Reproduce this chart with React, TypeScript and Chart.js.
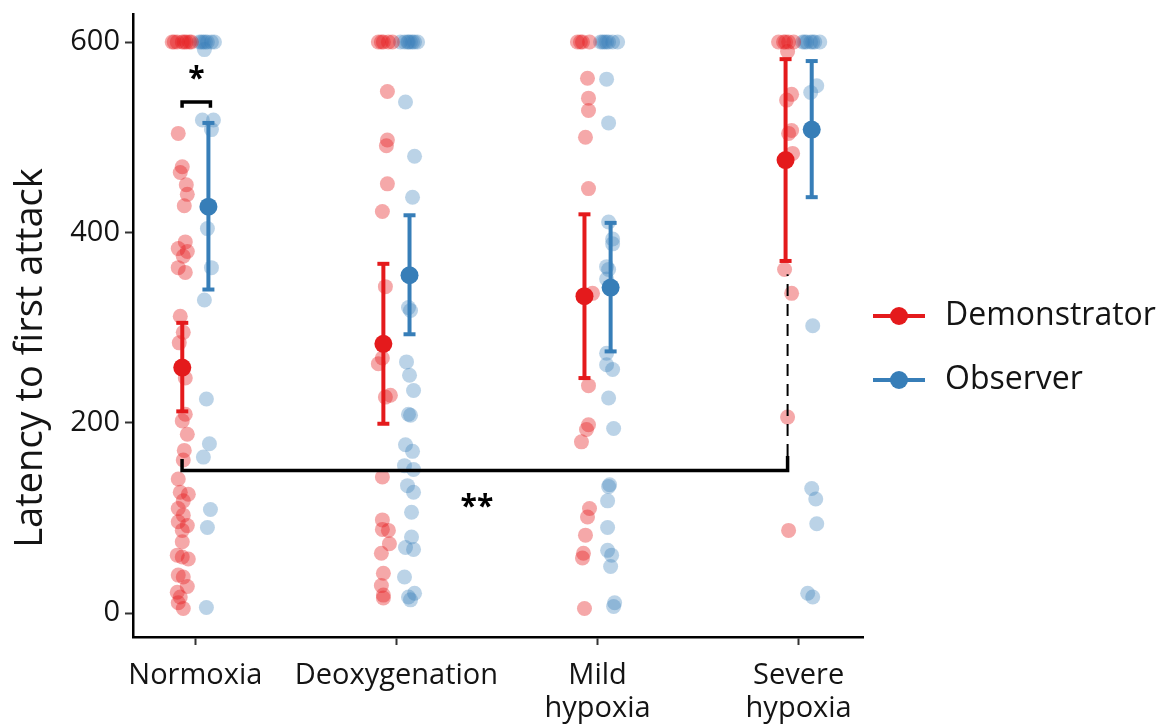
import { useEffect, useRef } from 'react';
import { Chart, registerables } from 'chart.js';

Chart.register(...registerables);

// ---------- data ----------
const categories: string[][] = [['Normoxia'], ['Deoxygenation'], ['Mild', 'hypoxia'], ['Severe', 'hypoxia']];
const seriesNames = ['Demonstrator', 'Observer'];
const yTicks = [0, 200, 400, 600];
const yTitle = 'Latency to first attack';

// jitter: horizontal offset from the category centre (category units)
const normoxiaDemVals = [600, 600, 600, 600, 600, 600, 600, 600, 504, 469, 463, 450, 440, 428, 390, 383, 380, 375, 363, 358, 312, 295, 284, 247, 209, 202, 188, 171, 161, 141, 127, 125, 118, 110, 103, 96, 92, 87, 75, 61, 59, 57, 40, 38, 28, 22, 17, 11, 5];
const normoxiaDemJit = [-0.115, -0.09, -0.065, -0.045, -0.02, -0.105, -0.055, -0.03, -0.085, -0.065, -0.075, -0.045, -0.04, -0.055, -0.05, -0.085, -0.04, -0.06, -0.085, -0.05, -0.075, -0.06, -0.08, -0.05, -0.05, -0.065, -0.04, -0.055, -0.06, -0.085, -0.075, -0.035, -0.06, -0.085, -0.06, -0.085, -0.04, -0.065, -0.065, -0.09, -0.065, -0.035, -0.085, -0.06, -0.04, -0.09, -0.075, -0.085, -0.06];
const normoxiaObsVals = [600, 600, 600, 600, 600, 600, 600, 592, 518, 518, 508, 404, 363, 329, 225, 178, 164, 109, 90, 6];
const normoxiaObsJit = [0.02, 0.04, 0.06, 0.08, 0.095, 0.03, 0.05, 0.045, 0.035, 0.09, 0.08, 0.06, 0.08, 0.045, 0.055, 0.07, 0.04, 0.075, 0.06, 0.055];

const deoxDemVals = [600, 600, 600, 600, 600, 548, 497, 491, 451, 422, 343, 268, 262, 227, 229, 143, 98, 88, 87, 73, 63, 42, 29, 19, 16];
const deoxDemJit = [-0.09, -0.065, -0.04, -0.02, -0.075, -0.045, -0.045, -0.05, -0.045, -0.07, -0.055, -0.07, -0.09, -0.055, -0.03, -0.07, -0.07, -0.07, -0.04, -0.035, -0.075, -0.065, -0.075, -0.065, -0.065];
const deoxObsVals = [600, 600, 600, 600, 600, 600, 600, 600, 537, 480, 437, 321, 318, 264, 250, 234, 209, 208, 177, 170, 155, 151, 134, 127, 106, 80, 69, 67, 38, 21, 17, 14];
const deoxObsJit = [0.02, 0.04, 0.055, 0.07, 0.09, 0.105, 0.06, 0.08, 0.045, 0.09, 0.08, 0.06, 0.07, 0.05, 0.065, 0.085, 0.06, 0.07, 0.045, 0.08, 0.04, 0.085, 0.055, 0.085, 0.075, 0.075, 0.045, 0.085, 0.04, 0.09, 0.06, 0.07];

const mildDemVals = [600, 600, 600, 600, 562, 541, 528, 500, 446, 336, 239, 198, 193, 180, 110, 101, 82, 63, 58, 5];
const mildDemJit = [-0.1, -0.075, -0.04, -0.085, -0.05, -0.045, -0.045, -0.06, -0.045, -0.025, -0.045, -0.045, -0.055, -0.08, -0.04, -0.05, -0.06, -0.07, -0.075, -0.065];
const mildObsVals = [600, 600, 600, 600, 600, 600, 600, 561, 515, 411, 393, 388, 364, 361, 351, 273, 261, 256, 226, 194, 135, 133, 118, 90, 66, 61, 49, 11, 7];
const mildObsJit = [0.015, 0.035, 0.055, 0.075, 0.1, 0.025, 0.045, 0.045, 0.055, 0.055, 0.075, 0.075, 0.045, 0.055, 0.045, 0.045, 0.045, 0.075, 0.055, 0.08, 0.06, 0.055, 0.05, 0.05, 0.05, 0.07, 0.065, 0.085, 0.08];

const severeDemVals = [600, 600, 600, 600, 600, 590, 545, 539, 507, 504, 483, 361, 336, 206, 87];
const severeDemJit = [-0.1, -0.075, -0.05, -0.025, -0.065, -0.055, -0.035, -0.06, -0.035, -0.05, -0.03, -0.07, -0.035, -0.055, -0.05];
const severeObsVals = [600, 600, 600, 600, 600, 600, 600, 554, 547, 302, 131, 120, 94, 21, 17];
const severeObsJit = [0.02, 0.04, 0.06, 0.08, 0.105, 0.03, 0.07, 0.09, 0.06, 0.07, 0.065, 0.085, 0.09, 0.045, 0.07];

// means with error bars
const demMeans = [258, 283, 333, 476];
const demLo = [212, 199, 247, 370];
const demHi = [305, 367, 419, 582];
const obsMeans = [427, 355, 342, 508];
const obsLo = [340, 293, 275, 437];
const obsHi = [515, 418, 410, 580];
const dodge = 0.065;

// significance annotations (data units)
const starBracket = { x1: 0.934, x2: 1.075, y: 537, tipY: 531, label: '*', labelX: 1.005, labelY: 552 };
const dblBracket = { x1: 0.934, x2: 3.945, y: 150, leftTipY: 162, rightTipY: 165, dashTopY: 356, label: '**', labelX: 2.4, labelY: 102 };

const RED = '#E41A1C';
const BLUE = '#377EB8';
const RED_A = 'rgba(228,26,28,0.38)';
const BLUE_A = 'rgba(55,126,184,0.34)';
const FONT = '"Open Sans", "Noto Sans", sans-serif';
const TEXT = '#141414';
const SHIFT = 8; // canvas is raised by this many pixels

const demGroups = [
  [normoxiaDemVals, normoxiaDemJit],
  [deoxDemVals, deoxDemJit],
  [mildDemVals, mildDemJit],
  [severeDemVals, severeDemJit],
];
const obsGroups = [
  [normoxiaObsVals, normoxiaObsJit],
  [deoxObsVals, deoxObsJit],
  [mildObsVals, mildObsJit],
  [severeObsVals, severeObsJit],
];

const toPoints = (groups: number[][][]) =>
  groups.flatMap(([vals, jit], c) => vals.map((v, i) => ({ x: c + 1 + jit[i], y: v })));

const annotationPlugin = {
  id: 'annotations',
  afterDatasetsDraw(chart: any) {
    const { ctx } = chart;
    const xs = chart.scales.x;
    const ys = chart.scales.y;
    const px = (v: number) => xs.getPixelForValue(v);
    const py = (v: number) => ys.getPixelForValue(v);
    ctx.save();
    ctx.strokeStyle = '#000';
    ctx.fillStyle = '#000';
    ctx.lineWidth = 3.5;
    ctx.lineJoin = 'miter';
    ctx.lineCap = 'butt';
    // star bracket
    ctx.beginPath();
    ctx.moveTo(px(starBracket.x1), py(starBracket.tipY));
    ctx.lineTo(px(starBracket.x1), py(starBracket.y));
    ctx.lineTo(px(starBracket.x2), py(starBracket.y));
    ctx.lineTo(px(starBracket.x2), py(starBracket.tipY));
    ctx.stroke();
    // double-star bracket
    ctx.beginPath();
    ctx.moveTo(px(dblBracket.x1), py(dblBracket.leftTipY));
    ctx.lineTo(px(dblBracket.x1), py(dblBracket.y));
    ctx.lineTo(px(dblBracket.x2), py(dblBracket.y));
    ctx.lineTo(px(dblBracket.x2), py(dblBracket.rightTipY));
    ctx.stroke();
    ctx.lineWidth = 2;
    ctx.setLineDash([12, 8]);
    ctx.beginPath();
    ctx.moveTo(px(dblBracket.x2), py(dblBracket.rightTipY));
    ctx.lineTo(px(dblBracket.x2), py(dblBracket.dashTopY));
    ctx.stroke();
    ctx.setLineDash([]);
    ctx.font = `bold 30px ${FONT}`;
    ctx.textAlign = 'center';
    ctx.textBaseline = 'alphabetic';
    ctx.fillText(starBracket.label, px(starBracket.labelX), py(starBracket.labelY));
    ctx.fillText(dblBracket.label, px(dblBracket.labelX), py(dblBracket.labelY));
    ctx.restore();
  },
  afterDraw(chart: any) {
    const { ctx, chartArea } = chart;
    const colors = [RED, BLUE];
    ctx.save();
    seriesNames.forEach((name, i) => {
      const cy = 316 + SHIFT + i * 64;
      const x0 = chartArea.right + 10;
      ctx.strokeStyle = colors[i];
      ctx.lineWidth = 4;
      ctx.beginPath();
      ctx.moveTo(x0, cy);
      ctx.lineTo(x0 + 52, cy);
      ctx.stroke();
      ctx.fillStyle = colors[i];
      ctx.beginPath();
      ctx.arc(x0 + 26, cy, 9, 0, Math.PI * 2);
      ctx.fill();
      ctx.fillStyle = TEXT;
      ctx.font = `32px ${FONT}`;
      ctx.textAlign = 'left';
      ctx.textBaseline = 'middle';
      ctx.fillText(name, x0 + 72, cy);
    });
    // y-axis title
    ctx.translate(42, 358 + SHIFT);
    ctx.rotate(-Math.PI / 2);
    ctx.fillStyle = TEXT;
    ctx.font = `38px ${FONT}`;
    ctx.textAlign = 'center';
    ctx.textBaseline = 'alphabetic';
    ctx.fillText(yTitle, 0, 0);
    ctx.restore();
  },
};

export default function App() {
  const ref = useRef<HTMLCanvasElement | null>(null);
  useEffect(() => {
    if (!ref.current) return;
    const errDatasets: any[] = [];
    [0, 1, 2, 3].forEach((c) => {
      errDatasets.push({
        type: 'line',
        data: [{ x: c + 1 - dodge, y: demLo[c] }, { x: c + 1 - dodge, y: demHi[c] }],
        borderColor: RED,
        borderWidth: 4,
        pointStyle: 'line',
        pointRadius: 6,
        pointBorderWidth: 4,
        pointBorderColor: RED,
        order: 1,
        clip: false,
      });
      errDatasets.push({
        type: 'line',
        data: [{ x: c + 1 + dodge, y: obsLo[c] }, { x: c + 1 + dodge, y: obsHi[c] }],
        borderColor: BLUE,
        borderWidth: 4,
        pointStyle: 'line',
        pointRadius: 6,
        pointBorderWidth: 4,
        pointBorderColor: BLUE,
        order: 1,
        clip: false,
      });
    });
    const chart = new Chart(ref.current, {
      type: 'scatter',
      data: {
        datasets: [
          {
            label: 'Demonstrator mean',
            data: demMeans.map((m, c) => ({ x: c + 1 - dodge, y: m })),
            backgroundColor: RED,
            borderWidth: 0,
            pointRadius: 9,
            order: 0,
            clip: false,
          },
          {
            label: 'Observer mean',
            data: obsMeans.map((m, c) => ({ x: c + 1 + dodge, y: m })),
            backgroundColor: BLUE,
            borderWidth: 0,
            pointRadius: 9,
            order: 0,
            clip: false,
          },
          ...errDatasets,
          {
            label: 'Demonstrator',
            data: toPoints(demGroups as any),
            backgroundColor: RED_A,
            borderWidth: 0,
            pointRadius: 7.5,
            order: 2,
            clip: false,
          },
          {
            label: 'Observer',
            data: toPoints(obsGroups as any),
            backgroundColor: BLUE_A,
            borderWidth: 0,
            pointRadius: 7.5,
            order: 2,
            clip: false,
          },
        ],
      },
      options: {
        animation: false,
        responsive: false,
        devicePixelRatio: 1,
        layout: { padding: { top: 4, right: 301, left: 0, bottom: 0 } },
        plugins: { legend: { display: false }, tooltip: { enabled: false } },
        scales: {
          x: {
            type: 'linear',
            min: 0.69,
            max: 4.32,
            afterBuildTicks: (s: any) => {
              s.ticks = categories.map((_, i) => ({ value: i + 1 }));
            },
            afterFit: (s: any) => {
              s.height = 87;
            },
            ticks: {
              autoSkip: false,
              maxRotation: 0,
              padding: 14,
              color: TEXT,
              font: { family: FONT, size: 29, lineHeight: 1.15 },
              callback: (_v: any, i: number) => categories[i],
            },
            grid: { display: true, drawOnChartArea: false, drawTicks: true, tickLength: 8, tickWidth: 2, color: '#333' },
            border: { display: true, color: '#000', width: 2.5 },
          },
          y: {
            type: 'linear',
            min: -25,
            max: 629,
            afterBuildTicks: (s: any) => {
              s.ticks = yTicks.map((v) => ({ value: v }));
            },
            afterFit: (s: any) => {
              s.width = 133;
            },
            ticks: {
              padding: 5,
              color: TEXT,
              font: { family: FONT, size: 29 },
              callback: (v: any) => String(v),
            },
            title: { display: false },
            grid: { display: true, drawOnChartArea: false, drawTicks: true, tickLength: 8, tickWidth: 2, color: '#333' },
            border: { display: true, color: '#000', width: 2.5 },
          },
        },
      },
      plugins: [annotationPlugin],
    });
    return () => chart.destroy();
  }, []);
  return (
    <div style={{ position: 'fixed', left: 0, top: 0, width: 1164, height: 724, background: '#fff', overflow: 'hidden' }}>
      <canvas
        ref={ref}
        width={1164}
        height={724 + SHIFT}
        style={{ position: 'absolute', left: 0, top: -SHIFT, width: 1164, height: 724 + SHIFT }}
      />
    </div>
  );
}
